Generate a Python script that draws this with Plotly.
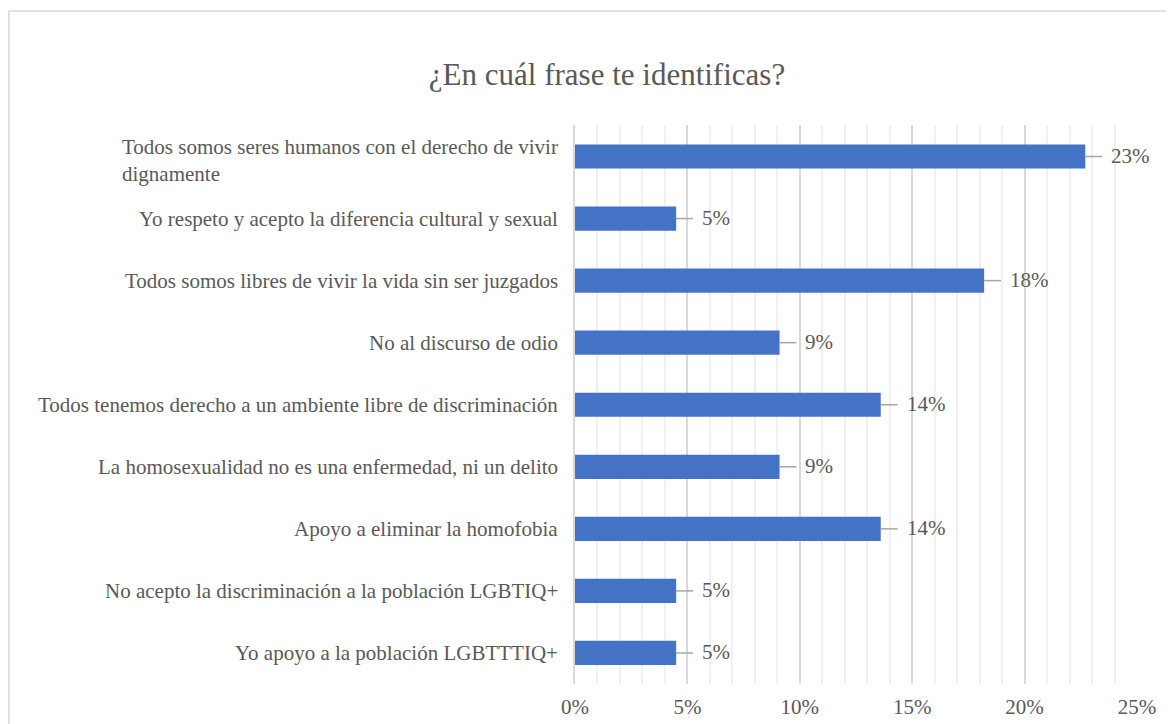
import plotly.graph_objects as go

categories = [
    "Todos somos seres humanos con el derecho de vivir<br>dignamente",
    "Yo respeto y acepto la diferencia cultural y sexual",
    "Todos somos libres de vivir la vida sin ser juzgados",
    "No al discurso de odio",
    "Todos tenemos derecho a un ambiente libre de discriminación",
    "La homosexualidad no es una enfermedad, ni un delito",
    "Apoyo a eliminar la homofobia",
    "No acepto la discriminación a la población LGBTIQ+",
    "Yo apoyo a la población LGBTTTIQ+",
]
values = [0.227, 0.045, 0.182, 0.091, 0.136, 0.091, 0.136, 0.045, 0.045]
labels = ["23%", "5%", "18%", "9%", "14%", "9%", "14%", "5%", "5%"]
tick_vals = [0, 0.05, 0.10, 0.15, 0.20, 0.25]
tick_text = ["0%", "5%", "10%", "15%", "20%", "25%"]

FONT = "Liberation Serif"
GRAY = "#595959"

fig = go.Figure()
fig.add_trace(go.Bar(
    y=categories, x=values, orientation="h",
    marker=dict(color="#4472C4", line=dict(width=0)),
    width=0.39, hoverinfo="skip",
))

annotations = []
shapes = []
for c, v, t in zip(categories, values, labels):
    shapes.append(dict(type="line", xref="x", yref="y", x0=v, x1=v + 0.0075,
                       y0=c, y1=c, line=dict(color="#A6A6A6", width=1.5)))
    annotations.append(dict(x=v + 0.0075, y=c, xref="x", yref="y", text=t,
                            showarrow=False, xanchor="left", xshift=7, yshift=1,
                            font=dict(family=FONT, size=21, color=GRAY)))
    annotations.append(dict(x=0, y=c, xref="x", yref="y", text=c,
                            showarrow=False, xanchor="right", align="left",
                            xshift=-15, yshift=(-4 if "<br>" in c else 0),
                            font=dict(family=FONT, size=21, color=GRAY)))

# outer chart border
shapes.append(dict(type="rect", xref="paper", yref="paper",
                   x0=(1 - 567) / 562, x1=1.2, y0=-0.2, y1=1 + (117 - 3) / 559,
                   line=dict(color="#D9D9D9", width=1.5), layer="below"))

fig.update_layout(
    width=1174, height=724,
    margin=dict(l=567, r=45, t=117, b=48),
    paper_bgcolor="white", plot_bgcolor="white",
    font=dict(family=FONT),
    title=dict(text="¿En cuál frase te identificas?", x=599 / 1174, xanchor="center",
               y=1 - 66 / 724, yanchor="middle",
               font=dict(family=FONT, size=31, color=GRAY)),
    showlegend=False,
    bargap=0.6,
    annotations=annotations,
    shapes=shapes,
    xaxis=dict(range=[0, 0.25], tickvals=tick_vals, ticktext=tick_text,
               showgrid=True, gridcolor="#D9D9D9", gridwidth=1.5,
               zeroline=False, showline=False,
               minor=dict(dtick=0.01, showgrid=True, gridcolor="#F0F0F0", gridwidth=1.5),
               tickfont=dict(family=FONT, size=21, color=GRAY), ticks="",
               ticklabelstandoff=8),
    yaxis=dict(autorange="reversed", showticklabels=False, showgrid=False,
               showline=True, linecolor="#D9D9D9", linewidth=1.5, ticks=""),
)

fig.write_html("out.html")
